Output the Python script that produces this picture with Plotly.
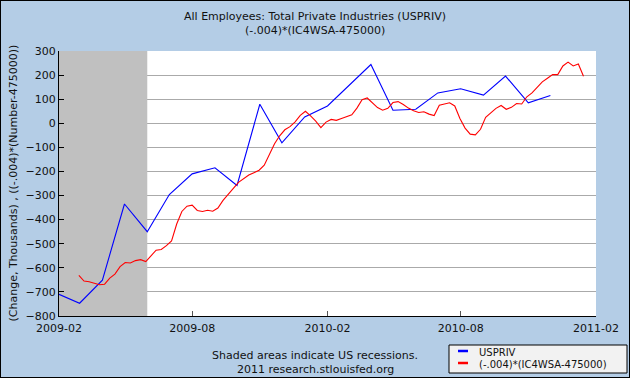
import plotly.graph_objects as go
import pandas as pd

# ---------------- data ----------------
title_line1 = "All Employees: Total Private Industries (USPRIV)"
title_line2 = "(-.004)*(IC4WSA-475000)"
y_title = "(Change, Thousands) , ((-.004)*(Number-475000))"
note_line1 = "Shaded areas indicate US recessions."
note_line2 = "2011 research.stlouisfed.org"

series_names = ["USPRIV", "(-.004)*(IC4WSA-475000)"]

usp_start = "2009-02-01"
usp_values = [-710, -747, -651, -335, -450, -296, -210, -185, -258, 79, -81, 26,
              72, 153, 244, 54, 58, 126, 143, 117, 196, 85, 115]

ic_start = "2009-02-28"
ic_values = [-631, -655, -658, -663, -670, -668, -643, -626, -595, -578,
             -580, -570, -566, -574, -551, -527, -524, -508, -488, -418,
             -366, -344, -340, -362, -366, -361, -365, -352, -320, -293,
             -270, -245, -229, -215, -205, -195, -174, -132, -85, -52,
             -27, -14, 6, 33, 50, 31, 9, -18, 5, 16,
             12, 20, 29, 35, 63, 98, 105, 84, 65, 54,
             62, 86, 90, 78, 63, 52, 45, 48, 38, 32,
             75, 80, 85, 72, 20, -20, -45, -48, -25, 25,
             43, 62, 74, 58, 66, 82, 80, 110, 126, 148,
             172, 187, 202, 202, 238, 254, 238, 246, 195]

recession_start = "2009-02-01"
recession_end = "2009-06-01"

x_range = ["2009-02-01", "2011-02-01"]
y_range = [-800, 300]
y_ticks = list(range(-800, 301, 100))

usp_dates = pd.date_range(usp_start, periods=len(usp_values), freq="MS")
ic_dates = pd.date_range(ic_start, periods=len(ic_values), freq="7D")

# ---------------- figure ----------------
FONT = "DejaVu Sans"
BG = "#B4CDE6"

fig = go.Figure()
fig.add_trace(go.Scatter(x=usp_dates, y=usp_values, mode="lines", name=series_names[0],
                         line=dict(color="#0000FF", width=1.1), showlegend=False))
fig.add_trace(go.Scatter(x=ic_dates, y=ic_values, mode="lines", name=series_names[1],
                         line=dict(color="#FF0000", width=1.1), showlegend=False))

# recession shading (covers grid lines, below traces)
fig.add_shape(type="rect", xref="x", yref="y", x0=recession_start, x1=recession_end,
              y0=y_range[0], y1=y_range[1], fillcolor="#C0C0C0", line_width=0,
              layer="between")

L, R, T, B = 59, 34, 51, 62
W, H = 630, 378
pw, ph = W - L - R, H - T - B


def px(xp):
    return (xp - L) / pw


def py(yp):
    return (H - B - yp) / ph


# outer border
fig.add_shape(type="rect", xref="paper", yref="paper", x0=px(0), x1=px(W), y0=py(H), y1=py(0),
              line=dict(color="black", width=2), fillcolor="rgba(0,0,0,0)", layer="above")

# titles
for txt, yy in [(title_line1, 16), (title_line2, 30)]:
    fig.add_annotation(text=txt, xref="paper", yref="paper", x=px(315), y=py(yy),
                       showarrow=False, xanchor="center", yanchor="middle",
                       font=dict(family=FONT, size=11, color="#111"))

# y axis title
fig.add_annotation(text=y_title, xref="paper", yref="paper", x=px(13), y=0.5, textangle=-90,
                   showarrow=False, xanchor="center", yanchor="middle",
                   font=dict(family=FONT, size=11, color="#111"))

# notes
for txt, yy in [(note_line1, 355), (note_line2, 369)]:
    fig.add_annotation(text=txt, xref="paper", yref="paper", x=px(315), y=py(yy),
                       showarrow=False, xanchor="center", yanchor="middle",
                       font=dict(family=FONT, size=11, color="#111"))

# manual legend
fig.add_shape(type="rect", xref="paper", yref="paper", x0=px(449), x1=px(627), y0=py(373), y1=py(345),
              line=dict(color="black", width=1), fillcolor="#F2F2F2", layer="above")
for name, col, yy in [(series_names[0], "#0000FF", 352), (series_names[1], "#FF0000", 364)]:
    fig.add_shape(type="line", xref="paper", yref="paper", x0=px(458), x1=px(468),
                  y0=py(yy - 1), y1=py(yy - 1), line=dict(color=col, width=2.5), layer="above")
    fig.add_annotation(text=name, xref="paper", yref="paper", x=px(477), y=py(yy),
                       showarrow=False, xanchor="left", yanchor="middle",
                       font=dict(family=FONT, size=10, color="#111"))

fig.update_layout(
    width=W, height=H,
    margin=dict(l=L, r=R, t=T, b=B),
    paper_bgcolor=BG, plot_bgcolor="white",
    showlegend=False,
    font=dict(family=FONT, size=11, color="#111"),
)
fig.update_xaxes(type="date", range=x_range, tick0="2009-02-01", dtick="M6", tickformat="%Y-%m",
                 showgrid=False, zeroline=False, showline=True, linecolor="black", linewidth=1,
                 ticks="inside", ticklen=5, tickcolor="#555", ticklabelstandoff=2,
                 tickfont=dict(family=FONT, size=11, color="#111"))
fig.update_yaxes(range=y_range, tickvals=y_ticks, showgrid=True, gridcolor="#AAAAAA", gridwidth=1,
                 zeroline=False, showline=True, linecolor="black", linewidth=1,
                 ticks="inside", ticklen=5, tickcolor="black",
                 tickfont=dict(family=FONT, size=11, color="#111"))

fig.write_html("out.html", config={"displayModeBar": False},
               post_script="document.body.style.margin='0';document.body.style.overflow='hidden';")
